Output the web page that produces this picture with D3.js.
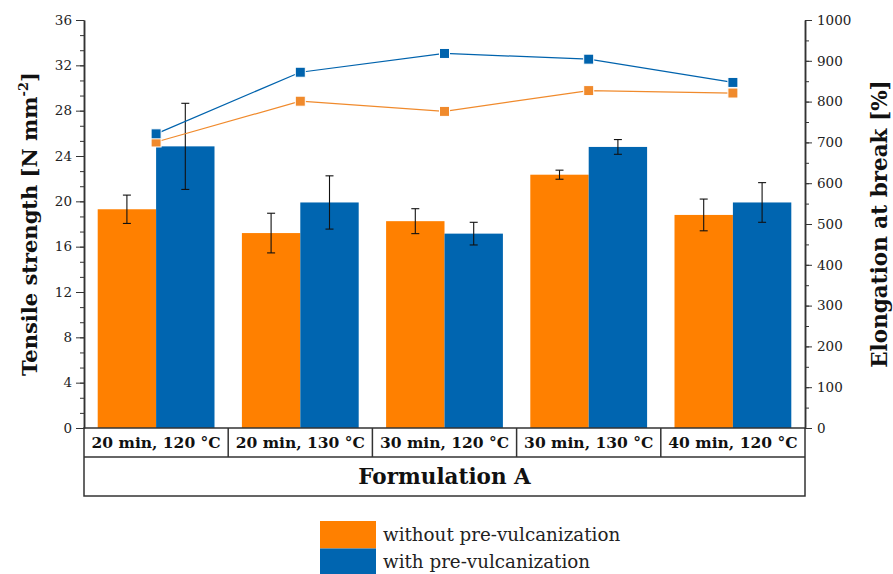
<!DOCTYPE html>
<html>
<head>
<meta charset="utf-8">
<script src="https://cdn.jsdelivr.net/npm/d3@7"></script>
<style>
  body { margin: 0; background: #fff; }
  svg { display: block; }
</style>
</head>
<body>
<div id="chart"></div>
<script>
const categories = ['20 min, 120 °C', '20 min, 130 °C', '30 min, 120 °C', '30 min, 130 °C', '40 min, 120 °C']
const seriesNames = ['without pre-vulcanization', 'with pre-vulcanization']
const tensileWithout = [19.3, 17.2, 18.25, 22.35, 18.8]
const tensileWithoutErr = [1.25, 1.75, 1.1, 0.4, 1.4]
const tensileWith = [24.85, 19.9, 17.15, 24.8, 19.9]
const tensileWithErr = [3.8, 2.35, 1.0, 0.65, 1.75]
const elongWithout = [701, 801, 776, 827, 821]
const elongWith = [721, 872, 918, 904, 847]
const leftTicks = [0, 4, 8, 12, 16, 20, 24, 28, 32, 36]
const rightTicks = [0, 100, 200, 300, 400, 500, 600, 700, 800, 900, 1000]
const groupLabel = 'Formulation A'

const W = 893
const H = 574
const X0 = 84
const X1 = 805
const Y0 = 428
const Y1 = 20
const ROW1 = 457
const ROW2 = 496
const FONT = '"DejaVu Serif", "Liberation Serif", serif'

const barColors = ['#ff8000', '#0065b0']
const lineColors = ['#f08a2c', '#0063ad']

const svg = d3.select('#chart').append('svg')
  .attr('width', W)
  .attr('height', H)
  .attr('font-family', FONT)

const x = d3.scaleBand()
  .domain(categories)
  .range([X0, X1])
  .paddingInner(0.19)
  .paddingOuter(0.095)

const xs = d3.scaleBand()
  .domain([0, 1])
  .range([0, x.bandwidth()])

const y = d3.scaleLinear().domain([0, 36]).range([Y0, Y1])
const y2 = d3.scaleLinear().domain([0, 1000]).range([Y0, Y1])

// bars
const bars = [tensileWithout, tensileWith]
const errs = [tensileWithoutErr, tensileWithErr]

bars.forEach((vals, s) => {
  svg.append('g').selectAll('rect')
    .data(vals)
    .join('rect')
    .attr('x', (d, i) => x(categories[i]) + xs(s))
    .attr('y', d => y(d))
    .attr('width', xs.bandwidth())
    .attr('height', d => Y0 - y(d))
    .attr('fill', barColors[s])
})

// error bars
bars.forEach((vals, s) => {
  const g = svg.append('g').attr('stroke', '#111').attr('stroke-width', 1.1)
  vals.forEach((v, i) => {
    const cx = x(categories[i]) + xs(s) + xs.bandwidth() / 2
    const lo = y(v - errs[s][i])
    const hi = y(v + errs[s][i])
    g.append('line').attr('x1', cx).attr('x2', cx).attr('y1', lo).attr('y2', hi)
    g.append('line').attr('x1', cx - 4).attr('x2', cx + 4).attr('y1', lo).attr('y2', lo)
    g.append('line').attr('x1', cx - 4).attr('x2', cx + 4).attr('y1', hi).attr('y2', hi)
  })
})

// elongation lines
const line = d3.line()
  .x((d, i) => x(categories[i]) + x.bandwidth() / 2)
  .y(d => y2(d))

;[elongWithout, elongWith].forEach((vals, s) => {
  svg.append('path')
    .datum(vals)
    .attr('fill', 'none')
    .attr('stroke', lineColors[s])
    .attr('stroke-width', 1.2)
    .attr('d', line)
  svg.append('g').selectAll('rect')
    .data(vals)
    .join('rect')
    .attr('x', (d, i) => x(categories[i]) + x.bandwidth() / 2 - 5)
    .attr('y', d => y2(d) - 5)
    .attr('width', 10)
    .attr('height', 10)
    .attr('fill', lineColors[s])
    .attr('stroke', '#fff')
    .attr('stroke-width', 1)
})

function styleAxis (g) {
  g.attr('font-family', FONT).attr('font-size', 13.5)
  g.selectAll('line').attr('stroke', '#333')
  g.select('.domain').attr('stroke', '#333').attr('stroke-width', 1.5)
  g.selectAll('text').attr('fill', '#222')
}

// left axis
svg.append('g')
  .attr('transform', `translate(${X0},0)`)
  .call(d3.axisLeft(y).tickValues(d3.range(0, 36.01, 4 / 3)).tickSize(4).tickSizeOuter(0).tickFormat(''))
  .call(styleAxis)
svg.append('g')
  .attr('transform', `translate(${X0},0)`)
  .call(d3.axisLeft(y).tickValues(leftTicks).tickSize(8).tickPadding(4).tickSizeOuter(0).tickFormat(d3.format('d')))
  .call(styleAxis)

// right axis
svg.append('g')
  .attr('transform', `translate(${X1},0)`)
  .call(d3.axisRight(y2).tickValues(d3.range(0, 1001, 50)).tickSize(4).tickSizeOuter(0).tickFormat(''))
  .call(styleAxis)
svg.append('g')
  .attr('transform', `translate(${X1},0)`)
  .call(d3.axisRight(y2).tickValues(rightTicks).tickSize(7).tickPadding(5).tickSizeOuter(0).tickFormat(d3.format('d')))
  .call(styleAxis)

// category table below the plot
const table = svg.append('g').attr('stroke', '#333').attr('stroke-width', 1.5).attr('fill', 'none')
table.append('rect').attr('x', X0).attr('y', Y0).attr('width', X1 - X0).attr('height', ROW2 - Y0)
table.append('line').attr('x1', X0).attr('x2', X1).attr('y1', ROW1).attr('y2', ROW1)
categories.slice(1).forEach(c => {
  const xx = x(c) - x.step() * x.paddingInner() / 2
  table.append('line').attr('x1', xx).attr('x2', xx).attr('y1', Y0).attr('y2', ROW1)
})

svg.append('g').selectAll('text')
  .data(categories)
  .join('text')
  .attr('x', d => x(d) + x.bandwidth() / 2)
  .attr('y', (Y0 + ROW1) / 2 + 5.5)
  .attr('text-anchor', 'middle')
  .attr('font-weight', 'bold')
  .attr('font-size', 15.5)
  .attr('fill', '#111')
  .text(d => d)

svg.append('text')
  .attr('x', (X0 + X1) / 2)
  .attr('y', (ROW1 + ROW2) / 2 + 7.5)
  .attr('text-anchor', 'middle')
  .attr('font-weight', 'bold')
  .attr('font-size', 21.5)
  .attr('fill', '#111')
  .text(groupLabel)

// axis titles
const lt = svg.append('text')
  .attr('transform', `translate(37,${(Y0 + Y1) / 2}) rotate(-90)`)
  .attr('text-anchor', 'middle')
  .attr('font-weight', 'bold')
  .attr('font-size', 21)
  .attr('fill', '#111')
lt.append('tspan').text('Tensile strength [N mm')
lt.append('tspan').attr('dy', -9).attr('font-size', 13).text('-2')
lt.append('tspan').attr('dy', 9).text(']')

svg.append('text')
  .attr('transform', `translate(887,${(Y0 + Y1) / 2}) rotate(-90)`)
  .attr('text-anchor', 'middle')
  .attr('font-weight', 'bold')
  .attr('font-size', 21.5)
  .attr('fill', '#111')
  .text('Elongation at break [%]')

// legend
const legend = svg.append('g').attr('transform', 'translate(320,521)')
seriesNames.forEach((name, i) => {
  legend.append('rect')
    .attr('x', 0)
    .attr('y', i * 27.5)
    .attr('width', 56)
    .attr('height', 27.5)
    .attr('fill', barColors[i])
  legend.append('text')
    .attr('x', 63)
    .attr('y', i * 27.5 + 19.5)
    .attr('font-size', 18.3)
    .attr('fill', '#222')
    .text(name)
})
</script>
</body>
</html>
